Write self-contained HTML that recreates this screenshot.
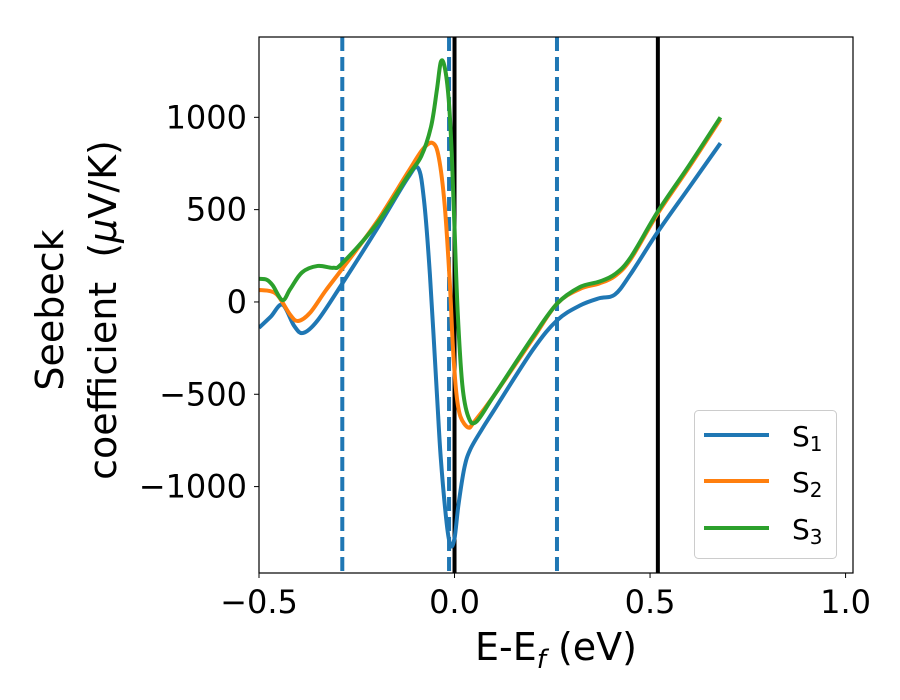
<!DOCTYPE html>
<html><head><meta charset="utf-8"><style>body{margin:0;background:#fff}svg{display:block;font-family:"DejaVu Sans","Liberation Sans",sans-serif}</style></head>
<body>
<svg id="c" width="900" height="700"></svg>
<script>
const xTicks=[-0.5,0.0,0.5,1.0];
const xTickLabels=["\u22120.5","0.0","0.5","1.0"];
const yTicks=[-1000,-500,0,500,1000];
const yTickLabels=["\u22121000","\u2212500","0","500","1000"];
const dashedLines=[-0.287,-0.014,0.262];
const solidLines=[0.0,0.52];
const s1x=[-0.5,-0.47,-0.44,-0.41,-0.387,-0.35,-0.287,-0.2,-0.12,-0.093,-0.078,-0.063,-0.045,-0.035,-0.02,-0.01,0.0,0.01,0.025,0.04,0.07,0.1,0.2,0.262,0.32,0.37,0.41,0.45,0.52,0.6,0.68];
const s1y=[-140,-80,-15,-130,-168,-100,100,390,670,725,550,150,-500,-850,-1200,-1320,-1280,-1100,-900,-800,-690,-590,-260,-100,-20,20,40,150,380,620,860];
const s2x=[-0.5,-0.47,-0.45,-0.42,-0.4,-0.37,-0.33,-0.287,-0.2,-0.12,-0.08,-0.055,-0.04,-0.025,-0.012,-0.004,0.005,0.015,0.035,0.05,0.1,0.2,0.262,0.32,0.37,0.41,0.45,0.52,0.6,0.68];
const s2y=[65,58,30,-70,-103,-60,60,180,430,700,830,860,780,520,100,-250,-500,-620,-680,-650,-510,-200,-10,70,100,140,230,480,730,990];
const s3x=[-0.5,-0.48,-0.465,-0.44,-0.42,-0.39,-0.35,-0.31,-0.287,-0.2,-0.12,-0.085,-0.06,-0.045,-0.035,-0.025,-0.015,-0.007,0.0,0.008,0.02,0.035,0.055,0.1,0.2,0.262,0.32,0.37,0.41,0.45,0.52,0.6,0.68];
const s3y=[125,120,90,10,70,160,195,185,210,420,680,790,950,1150,1300,1270,1100,800,400,-50,-450,-620,-650,-510,-190,-10,80,110,150,240,490,740,1000];
const series=[{n:"S1",x:s1x,y:s1y,c:"#1f77b4"},{n:"S2",x:s2x,y:s2y,c:"#ff7f0e"},{n:"S3",x:s3x,y:s3y,c:"#2ca02c"}];
const L=259,R=853,T=37,B=573,X0=-0.5,X1=1.019,Y0=-1468,Y1=1435;
const sx=v=>L+(v-X0)/(X1-X0)*(R-L), sy=v=>B-(v-Y0)/(Y1-Y0)*(B-T);
const svg=document.getElementById('c'),NS="http://www.w3.org/2000/svg";
function mk(t,a,p){const e=document.createElementNS(NS,t);for(const k in a)e.setAttribute(k,a[k]);(p||svg).appendChild(e);return e;}
const clip=mk('clipPath',{id:'cl'});mk('rect',{x:L,y:T,width:R-L,height:B-T},clip);
const g=mk('g',{'clip-path':'url(#cl)'});
solidLines.forEach(v=>{const e=mk('line',{x1:sx(v),x2:sx(v),y1:T,y2:B,stroke:'#000','stroke-width':4},g);

});
dashedLines.forEach(v=>{const e=mk('line',{x1:sx(v),x2:sx(v),y1:T,y2:B,stroke:'#1f77b4','stroke-width':4,'stroke-dasharray':'14,6'},g);

});
function path(xs,ys){const P=xs.map((x,i)=>[sx(x),sy(ys[i])]);let d=`M${P[0][0]},${P[0][1]}`;
for(let i=0;i<P.length-1;i++){const p0=P[i-1]||P[i],p1=P[i],p2=P[i+1],p3=P[i+2]||P[i+1];
d+=` C${p1[0]+(p2[0]-p0[0])/6},${p1[1]+(p2[1]-p0[1])/6} ${p2[0]-(p3[0]-p1[0])/6},${p2[1]-(p3[1]-p1[1])/6} ${p2[0]},${p2[1]}`;}return d;}
series.forEach(s=>{const e=mk('path',{d:path(s.x,s.y),fill:'none',stroke:s.c,'stroke-width':4,'stroke-linejoin':'round'},g);

});
const fr=mk('rect',{x:L,y:T,width:R-L,height:B-T,fill:'none',stroke:'#000','stroke-width':1.2});


xTicks.forEach((v,i)=>{mk('line',{x1:sx(v),x2:sx(v),y1:B,y2:B+5,stroke:'#000','stroke-width':1});
const t=mk('text',{x:sx(v),y:B+40,'text-anchor':'middle','font-size':32});t.textContent=xTickLabels[i];

});
yTicks.forEach((v,i)=>{mk('line',{x1:L-5,x2:L,y1:sy(v),y2:sy(v),stroke:'#000','stroke-width':1});
const t=mk('text',{x:L-12,y:sy(v)+11,'text-anchor':'end','font-size':32});t.textContent=yTickLabels[i];

});
</script>
<svg width="900" height="700" style="position:absolute;left:0;top:0">
<text x="556" y="660" text-anchor="middle" font-size="38" font-family="DejaVu Sans,Liberation Sans,sans-serif">E-E<tspan font-style="italic" font-size="26" dy="8">f</tspan><tspan dy="-8"> (eV)</tspan></text>
<g transform="translate(63,310) rotate(-90)" font-size="38" font-family="DejaVu Sans,Liberation Sans,sans-serif">
<text x="0" y="0" text-anchor="middle">Seebeck</text>
<text x="0" y="53" text-anchor="middle" xml:space="preserve">coefficient  (<tspan font-style="italic">μ</tspan>V/K)</text></g>
<g>
<rect x="694.5" y="410.5" width="142" height="148" rx="4" fill="#fff" fill-opacity="0.8" stroke="#ccc"/>
<line x1="704" x2="769" y1="435" y2="435" stroke="#1f77b4" stroke-width="4"/>
<line x1="704" x2="769" y1="481" y2="481" stroke="#ff7f0e" stroke-width="4"/>
<line x1="704" x2="769" y1="528" y2="528" stroke="#2ca02c" stroke-width="4"/>
<g font-size="28" font-family="DejaVu Sans,Liberation Sans,sans-serif">
<text x="792" y="446">S<tspan font-size="20" dy="5">1</tspan></text>
<text x="792" y="492">S<tspan font-size="20" dy="5">2</tspan></text>
<text x="792" y="539">S<tspan font-size="20" dy="5">3</tspan></text>
</g></g>
</svg>
</body></html>
